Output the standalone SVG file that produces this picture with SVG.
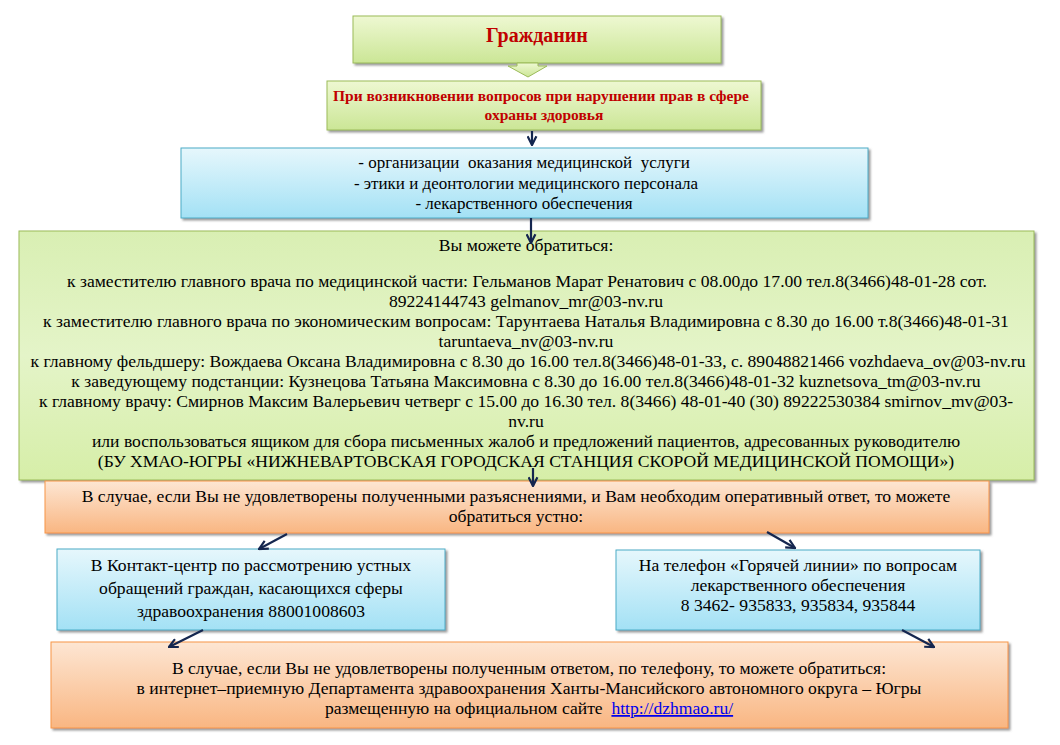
<svg xmlns="http://www.w3.org/2000/svg" width="1060" height="745" viewBox="0 0 1060 745">
<defs>
  <linearGradient id="gGreen" x1="0" y1="0" x2="0" y2="1">
    <stop offset="0" stop-color="#eef8d2"/>
    <stop offset="1" stop-color="#cbe696"/>
  </linearGradient>
  <linearGradient id="gGreenBig" x1="0" y1="0" x2="0" y2="1">
    <stop offset="0" stop-color="#d9efb3"/>
    <stop offset="0.5" stop-color="#e4f4c8"/>
    <stop offset="1" stop-color="#d6eea8"/>
  </linearGradient>
  <linearGradient id="gBlue" x1="0" y1="0" x2="0" y2="1">
    <stop offset="0" stop-color="#e6f7fc"/>
    <stop offset="1" stop-color="#a3e1f5"/>
  </linearGradient>
  <linearGradient id="gOrange" x1="0" y1="0" x2="0" y2="1">
    <stop offset="0" stop-color="#fde6d3"/>
    <stop offset="1" stop-color="#f9b682"/>
  </linearGradient>
  <filter id="shadow" x="-5%" y="-5%" width="110%" height="120%">
    <feDropShadow dx="2" dy="2" stdDeviation="1" flood-color="#808080" flood-opacity="0.8"/>
  </filter>
  <marker id="arr" viewBox="0 0 10 10" refX="9" refY="5" markerWidth="5" markerHeight="5" orient="auto" markerUnits="strokeWidth">
    <path d="M1,1 L9,5 L1,9" fill="none" stroke="#14264f" stroke-width="2"/>
  </marker>
  <style>
    .gr { fill: url(#gGreen); stroke: #9bbb59; stroke-width: 1; filter: url(#shadow); }
    .grb { fill: url(#gGreenBig); stroke: #9bbb59; stroke-width: 1; filter: url(#shadow); }
    .bl { fill: url(#gBlue); stroke: #4bacc6; stroke-width: 1; filter: url(#shadow); }
    .or { fill: url(#gOrange); stroke: #f79646; stroke-width: 1; filter: url(#shadow); }
    text { font-family: "Liberation Serif", "Times New Roman", serif; fill: #000; text-anchor: middle; }
    .red { fill: #c00000; font-weight: bold; }
    .t16 { font-size: 17.6px; }
    .t17 { font-size: 17px; }
    .link { fill: #0000ee; text-decoration: underline; }
    .con { stroke: #14264f; stroke-width: 2.2; fill: none; marker-end: url(#arr); }
  </style>
</defs>
<rect width="1060" height="745" fill="#ffffff"/>

<g id="node-citizen">
  <rect class="gr" x="353" y="16" width="368" height="47"/>
  <text class="red" x="537" y="42" font-size="20">Гражданин</text>
</g>

<g id="node-block-arrow">
  <path d="M517,63 L538,63 L538,66 L547,66 L528,77 L508,66 L517,66 Z" fill="url(#gGreen)" stroke="#9bbb59" stroke-width="1"/>
</g>

<g id="node-question">
  <rect class="gr" x="327" y="81" width="434" height="49"/>
  <text class="red" x="541" y="101" font-size="15.5">При возникновении вопросов при нарушении прав в сфере</text>
  <text class="red" x="544" y="120" font-size="15.5">охраны здоровья</text>
</g>

<g id="node-topics">
  <rect class="bl" x="181" y="148" width="687" height="70"/>
  <text class="t17" x="524" y="168" xml:space="preserve">- организации  оказания медицинской  услуги</text>
  <text class="t17" x="526" y="189">- этики и деонтологии медицинского персонала</text>
  <text class="t17" x="524" y="209">- лекарственного обеспечения</text>
</g>

<g id="node-contacts">
  <rect class="grb" x="19" y="231" width="1015" height="249"/>
  <text class="t16" x="526" y="251">Вы можете обратиться:</text>
  <text class="t16" x="527" y="287">к заместителю главного врача по медицинской части: Гельманов Марат Ренатович с 08.00до 17.00 тел.8(3466)48-01-28 сот.</text>
  <text class="t16" x="526" y="307">89224144743 gelmanov_mr@03-nv.ru</text>
  <text class="t16" x="526" y="327">к заместителю главного врача по экономическим вопросам: Тарунтаева Наталья Владимировна с 8.30 до 16.00 т.8(3466)48-01-31</text>
  <text class="t16" x="526" y="347">taruntaeva_nv@03-nv.ru</text>
  <text class="t16" x="528" y="367">к главному фельдшеру: Вождаева Оксана Владимировна с 8.30 до 16.00 тел.8(3466)48-01-33, с. 89048821466 vozhdaeva_ov@03-nv.ru</text>
  <text class="t16" x="526" y="387">к заведующему подстанции: Кузнецова Татьяна Максимовна с 8.30 до 16.00 тел.8(3466)48-01-32 kuznetsova_tm@03-nv.ru</text>
  <text class="t16" x="526" y="407">к главному врачу: Смирнов Максим Валерьевич четверг с 15.00 до 16.30 тел. 8(3466) 48-01-40 (30) 89222530384 smirnov_mv@03-</text>
  <text class="t16" x="526" y="427">nv.ru</text>
  <text class="t16" x="526" y="447">или воспользоваться ящиком для сбора письменных жалоб и предложений пациентов, адресованных руководителю</text>
  <text class="t16" x="526" y="467">(БУ ХМАО-ЮГРЫ «НИЖНЕВАРТОВСКАЯ ГОРОДСКАЯ СТАНЦИЯ СКОРОЙ МЕДИЦИНСКОЙ ПОМОЩИ»)</text>
</g>

<g id="node-oral">
  <rect class="or" x="45" y="481" width="944" height="52"/>
  <text class="t16" x="516" y="502">В случае, если Вы не удовлетворены полученными разъяснениями, и Вам необходим оперативный ответ, то можете</text>
  <text class="t16" x="516" y="522">обратиться устно:</text>
</g>

<g id="node-contact-center">
  <rect class="bl" x="57" y="549" width="388" height="81"/>
  <text class="t16" x="251" y="571">В Контакт-центр по рассмотрению устных</text>
  <text class="t16" x="251" y="594">обращений граждан, касающихся сферы</text>
  <text class="t16" x="251" y="617">здравоохранения 88001008603</text>
</g>

<g id="node-hotline">
  <rect class="bl" x="616" y="550" width="364" height="80"/>
  <text class="t16" x="798" y="571">На телефон «Горячей линии» по вопросам</text>
  <text class="t16" x="798" y="591">лекарственного обеспечения</text>
  <text class="t16" x="798" y="611">8 3462- 935833, 935834, 935844</text>
</g>

<g id="node-internet">
  <rect class="or" x="51" y="642" width="957" height="86"/>
  <text class="t16" x="529" y="674">В случае, если Вы не удовлетворены полученным ответом, по телефону, то можете обратиться:</text>
  <text class="t16" x="529" y="694">в интернет–приемную Департамента здравоохранения Ханты-Мансийского автономного округа – Югры</text>
  <text class="t16" x="529" y="714" xml:space="preserve">размещенную на официальном сайте  <tspan class="link">http://dzhmao.ru/</tspan></text>
</g>

<g id="connectors">
  <line class="con" x1="532" y1="131" x2="532" y2="145"/>
  <line class="con" x1="531" y1="218" x2="531" y2="243"/>
  <line class="con" x1="533" y1="468" x2="533" y2="486"/>
  <line class="con" x1="287" y1="534" x2="259" y2="549"/>
  <line class="con" x1="767" y1="532" x2="795" y2="548"/>
  <line class="con" x1="203" y1="630" x2="169" y2="647"/>
  <line class="con" x1="902" y1="630" x2="934" y2="647"/>
</g>
</svg>
